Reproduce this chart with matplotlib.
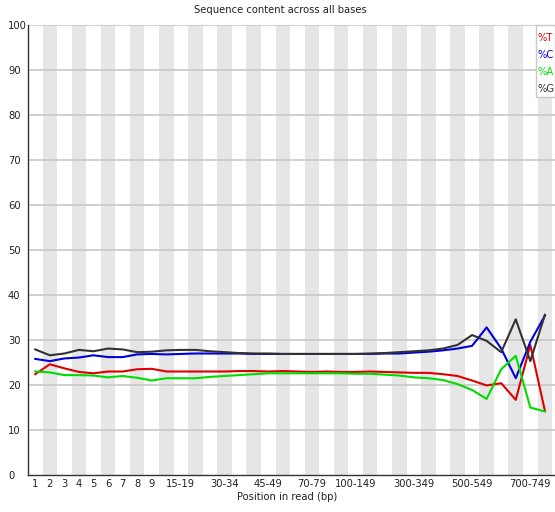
import matplotlib
matplotlib.use('Agg')
import matplotlib.pyplot as plt
import numpy as np

# Posições (bases individuais e depois grupos)
positions = ['1', '2', '3', '4', '5', '6', '7', '8', '9',
             '10-14', '15-19', '20-24', '25-29', '30-34', '35-39', '40-44', '45-49',
             '50-59', '60-69', '70-79', '80-89', '90-99', '100-149', '150-199',
             '200-249', '250-299', '300-349', '350-399', '400-449', '450-499',
             '500-549', '550-599', '600-649', '650-699', '700-749', '750-799']
shown_labels = ['1', '2', '3', '4', '5', '6', '7', '8', '9', '15-19', '30-34',
                '45-49', '70-79', '100-149', '300-349', '500-549', '700-749']

pct_T = [22.4, 24.6, 23.7, 22.9, 22.6, 23.0, 23.0, 23.5, 23.6, 23.0, 23.0, 23.0,
         23.0, 23.0, 23.1, 23.1, 23.0, 23.1, 23.0, 22.9, 23.0, 22.9, 22.9, 23.0,
         22.9, 22.8, 22.7, 22.7, 22.4, 22.0, 21.0, 19.9, 20.4, 16.7, 28.9, 14.3]
pct_C = [25.8, 25.3, 25.9, 26.1, 26.6, 26.2, 26.2, 26.8, 26.9, 26.8, 26.9, 27.0,
         27.0, 27.0, 27.0, 26.9, 26.9, 26.9, 26.9, 26.9, 26.9, 26.9, 26.9, 26.9,
         27.0, 27.0, 27.2, 27.4, 27.7, 28.1, 28.7, 32.8, 28.1, 21.5, 29.6, 35.4]
pct_A = [23.0, 22.8, 22.2, 22.2, 22.1, 21.7, 22.0, 21.6, 21.0, 21.5, 21.5, 21.5,
         21.8, 22.0, 22.2, 22.4, 22.6, 22.6, 22.6, 22.6, 22.6, 22.6, 22.5, 22.5,
         22.3, 22.1, 21.7, 21.5, 21.1, 20.2, 18.9, 16.9, 23.5, 26.5, 15.0, 14.1]
pct_G = [27.9, 26.6, 27.0, 27.8, 27.5, 28.1, 27.9, 27.3, 27.4, 27.7, 27.8, 27.8,
         27.5, 27.3, 27.1, 27.0, 27.0, 26.9, 26.9, 26.9, 26.9, 26.9, 26.9, 27.0,
         27.1, 27.3, 27.5, 27.7, 28.1, 28.9, 31.1, 29.8, 27.3, 34.6, 25.3, 35.6]

series = [('%T', pct_T, '#dc0000'), ('%C', pct_C, '#0000dc'),
          ('%A', pct_A, '#00dc00'), ('%G', pct_G, '#323232')]

fs = 7.2
fig = plt.figure(figsize=(5.55, 5.12), dpi=100)
ax = fig.add_axes([28 / 555, 37 / 512, 527 / 555, 450 / 512])

x = np.arange(1, len(positions) + 1)

# Faixas cinzas alternadas
for i in x:
    if i % 2 == 0:
        ax.axvspan(i - 0.5, i + 0.5, color='#e6e6e6', lw=0, zorder=0)

# Linhas horizontais de grade
for yv in range(10, 101, 10):
    ax.axhline(yv, color='#c8c8c8', lw=1.2, zorder=1)

for name, vals, col in series:
    ax.plot(x, vals, color=col, lw=1.5, zorder=3)

ax.set_xlim(0.5, 0.5 + 527 / 14.56)
ax.set_ylim(0, 100)
ax.set_yticks(range(0, 101, 10))
ax.set_yticklabels([str(v) for v in range(0, 101, 10)], fontsize=fs, color='#222222')
for lbl in ax.get_yticklabels():
    lbl.set_horizontalalignment('left')
ax.set_xticks(x)
ax.set_xticklabels([p if p in shown_labels else '' for p in positions],
                   fontsize=fs, color='#222222')
ax.tick_params(axis='y', length=0, pad=14.4)
ax.tick_params(axis='x', length=0, pad=3)

for s in ['top', 'right']:
    ax.spines[s].set_visible(False)
for s in ['left', 'bottom']:
    ax.spines[s].set_color('#333333')
    ax.spines[s].set_linewidth(1.0)

# Caixa da legenda no canto superior direito
leg_box = plt.Rectangle((536 / 555, 1 - 97 / 512), 19 / 555, 72 / 512,
                        transform=fig.transFigure, facecolor='white',
                        edgecolor='#c8c8c8', lw=1.0, zorder=5)
fig.patches.append(leg_box)
for k, (name, vals, col) in enumerate(series):
    fig.text(538 / 555, 1 - (38 + 17 * k) / 512, name, color=col, fontsize=fs,
             ha='left', va='center', zorder=6)

fig.text(280 / 555, 1 - 10 / 512, 'Sequence content across all bases',
         ha='center', va='center', fontsize=fs, color='#222222')
fig.text(287 / 555, 1 - 497 / 512, 'Position in read (bp)',
         ha='center', va='center', fontsize=fs, color='#222222')

fig.savefig('out.png', dpi=100)
